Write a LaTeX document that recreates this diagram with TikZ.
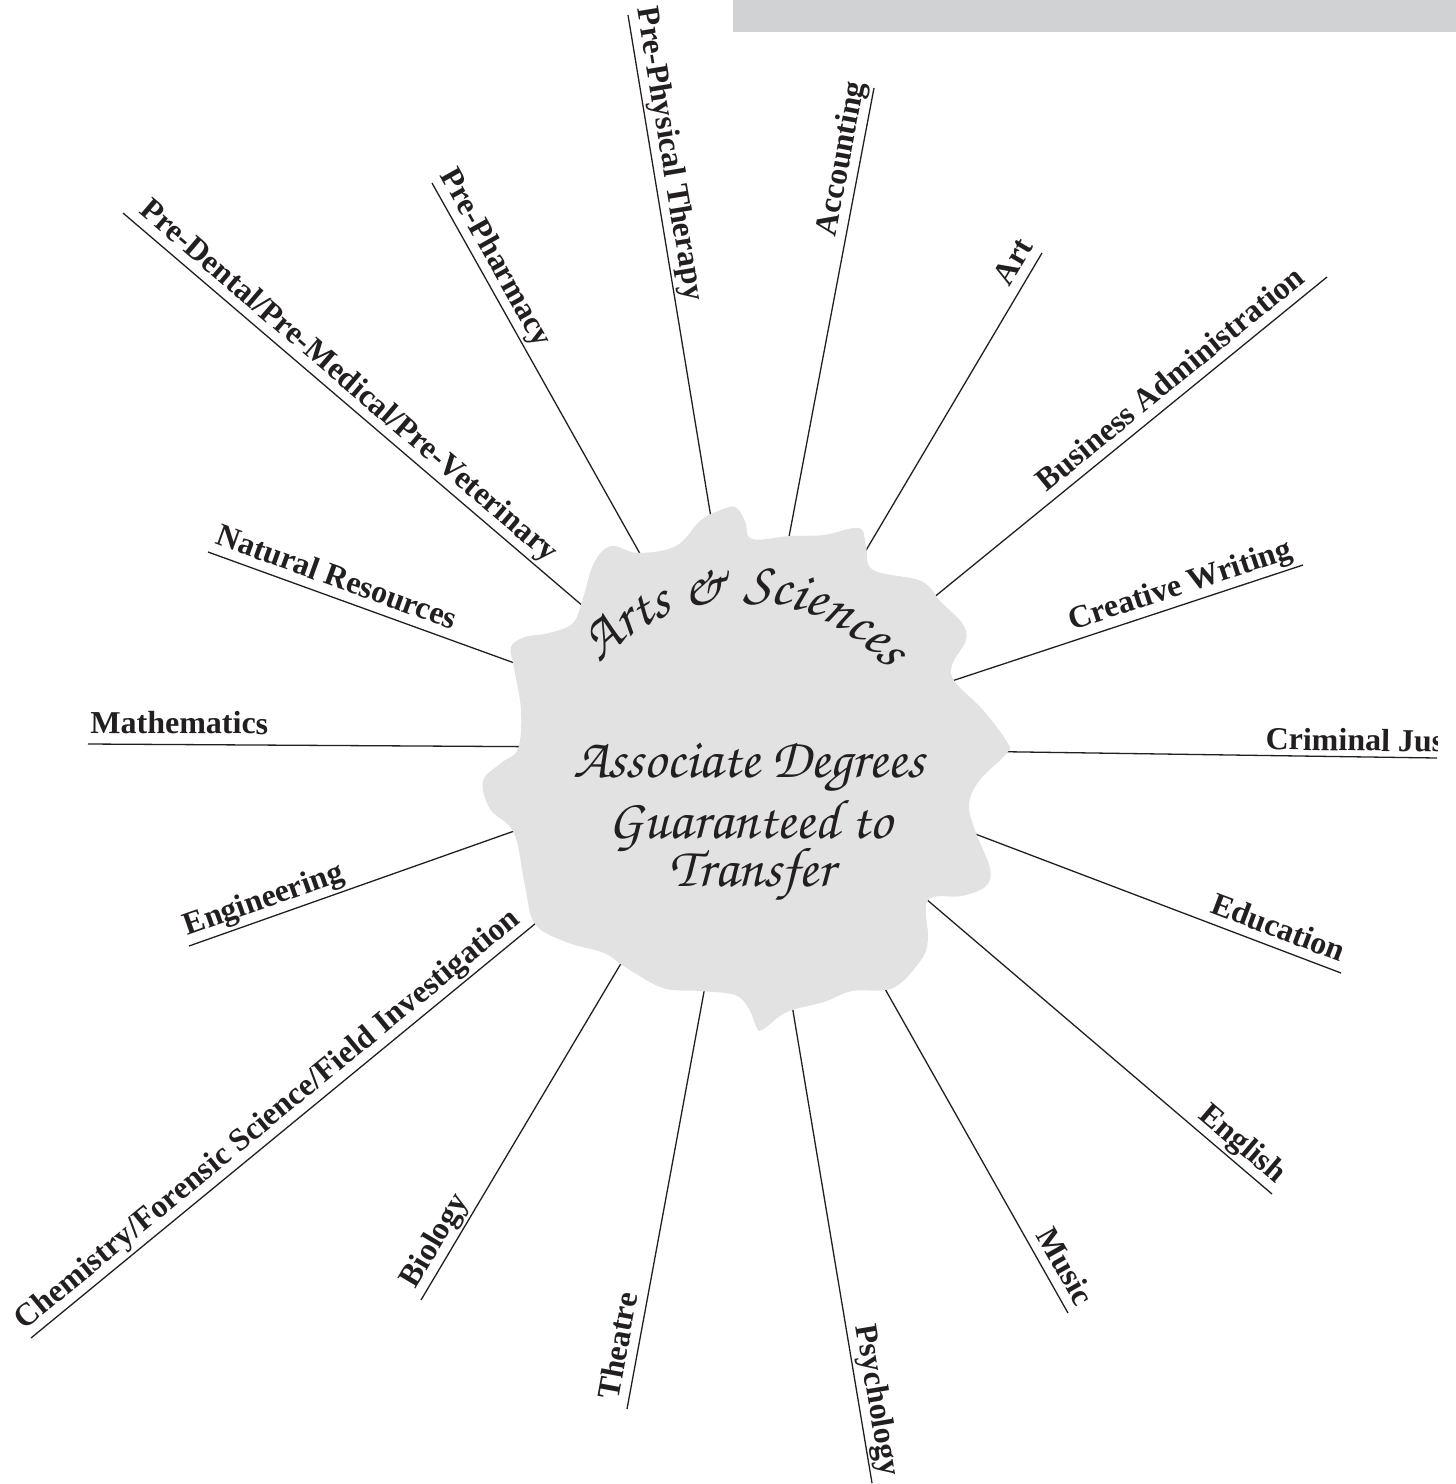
\documentclass[tikz,border=0pt]{standalone}
\usepackage[T1]{fontenc}
\usepackage{fontspec}
\setmainfont{Liberation Serif}
\usetikzlibrary{calc,decorations.text}

\definecolor{ink}{RGB}{35,31,32}
\definecolor{blobgray}{RGB}{226,226,227}
\definecolor{bargray}{RGB}{209,210,212}

% script face for the hub texts: a chancery if the tree has one, else an italic serif
\IfFileExists{t1pzc.fd}{%
  \newcommand{\chancery}{\fontencoding{T1}\fontfamily{pzc}\fontseries{mb}\fontshape{it}\selectfont}
  \newcommand{\hubsize}{\fontsize{28}{32}\selectfont}
  \newcommand{\arcsize}{\fontsize{29}{33}\selectfont}
}{%
  \newcommand{\chancery}{\rmfamily\mdseries\itshape}
  \newcommand{\hubsize}{\fontsize{23.5}{28}\selectfont}
  \newcommand{\arcsize}{\fontsize{24}{28}\selectfont}
}

% label that reads from the outer end of a ray toward the hub
% #1 ray end, #2 distance from the end, #3 gap to the line, #4 text
\newcommand{\labin}[4]{%
  \path ($(#1)!#2!(hub)!#3!90:(hub)$) -- ($(hub)!#3!-90:(#1)$)
    node[lab, pos=0, sloped, anchor=base west] (#1-lab) {#4};}
% label that reads from the hub outward
% #1 ray end, #2 distance from the end, #3 gap, #4 anchor, #5 text
\newcommand{\labout}[5]{%
  \path ($(hub)!#3!90:(#1)$) -- ($(#1)!#2!(hub)!#3!-90:(hub)$)
    node[lab, pos=1, sloped, anchor=#4] (#1-lab) {#5};}

\tikzset{
  lab/.style={font=\fontsize{16}{19}\selectfont\bfseries, text=ink, inner sep=0pt},
  ray/.style={draw=ink, line width=0.65pt},
  hubtext/.style={font=\chancery\hubsize, text=ink, inner sep=0pt, anchor=base},
}

\begin{document}
\begin{tikzpicture}[x=0.5pt, y=-0.5pt]
\useasboundingbox (0,0) rectangle (1456,1484);

% banner strip
\fill[bargray] (733,0) rectangle (1456,32);

% hub and outer ends of the rays
\coordinate (hub) at (749,748);
\coordinate (ppt) at (628,15);
\coordinate (acc) at (874,88);
\coordinate (art) at (1042,253);
\coordinate (bus) at (1327,277);
\coordinate (cw) at (1303,565);
\coordinate (cj) at (1437,758);
\coordinate (edu) at (1341,973);
\coordinate (eng) at (1272,1194);
\coordinate (mus) at (1068,1313);
\coordinate (psy) at (872,1483);
\coordinate (thea) at (627,1409);
\coordinate (bio) at (421,1300);
\coordinate (chem) at (31,1338);
\coordinate (engi) at (189,946);
\coordinate (math) at (88,744);
\coordinate (nat) at (208,552);
\coordinate (pdm) at (123,213);
\coordinate (pph) at (432,183);

\begin{scope}
\clip (0,0) rectangle (1437,1484);
\foreach \e in {ppt,acc,art,bus,cw,cj,edu,eng,mus,psy,thea,bio,chem,engi,math,nat,pdm,pph}
  \draw[ray] (hub) -- (\e);

\labin{ppt}{-2.5pt}{5pt}{Pre-Physical Therapy}
\labout{acc}{-1.5pt}{5pt}{base east}{Accounting}
\labout{art}{-1pt}{5pt}{base east}{Art}
\labout{bus}{9pt}{5pt}{base east}{Business Administration}
\labout{cw}{3pt}{5pt}{base east}{Creative Writing}
\labout{cj}{86pt}{3pt}{base west}{Criminal Jus}
\labout{edu}{2pt}{5pt}{base east}{Education}
\labout{eng}{1.5pt}{5pt}{base east}{English}
\labout{mus}{0pt}{5pt}{base east}{Music}
\labout{psy}{2pt}{5pt}{base east}{Psychology}
\labin{thea}{3pt}{5pt}{Theatre}
\labin{bio}{3pt}{5pt}{Biology}
\labin{chem}{0pt}{5pt}{Chemistry/Forensic Science/Field Investigation}
\labin{engi}{1pt}{5pt}{Engineering}
\labin{math}{1pt}{5.5pt}{Mathematics}
\labin{nat}{1.5pt}{5pt}{Natural Resources}
\labin{pdm}{5.5pt}{5pt}{Pre-Dental/Pre-Medical/Pre-Veterinary}
\labin{pph}{-1.5pt}{5pt}{Pre-Pharmacy}
\end{scope}

% wavy hub
\fill[blobgray] plot[smooth cycle, tension=0.6] coordinates {
  (700,521) (718,511) (735,507) (745,521) (752,539) (790,536) (824,535)
  (859,528) (866,546) (873,570) (921,581) (941,602) (962,623) (966,640)
  (952,665) (955,682) (983,710) (1007,742) (1007,753) (979,781) (969,805)
  (976,833) (990,868) (986,886) (962,896) (928,900) (928,939) (921,960)
  (893,988) (852,991) (824,1002) (787,1012) (762,1030) (756,1026) (749,1009)
  (735,995) (700,991) (663,988) (625,967) (604,953) (566,942) (535,924)
  (525,886) (514,833) (490,809) (483,781) (501,763) (518,749) (521,710)
  (514,668) (511,647) (525,637) (549,633) (573,623) (583,598) (594,563)
  (611,546) (638,553) (676,546)};

% curved heading
\coordinate (arcc) at (741,791);
\path[decorate, decoration={text along path, text align=fit to path,
  text={|\chancery\arcsize\color{ink}|Arts {\&} Sciences}}]
  ($(arcc)+(-138:190)$) arc[start angle=-138, end angle=-41, radius=190];

\node[hubtext] (deg1) at (749,777) {Associate Degrees};
\node[hubtext] (deg2) at (750,838) {Guaranteed to};
\node[hubtext] (deg3) at (752,886) {Transfer};
\end{tikzpicture}
\end{document}
